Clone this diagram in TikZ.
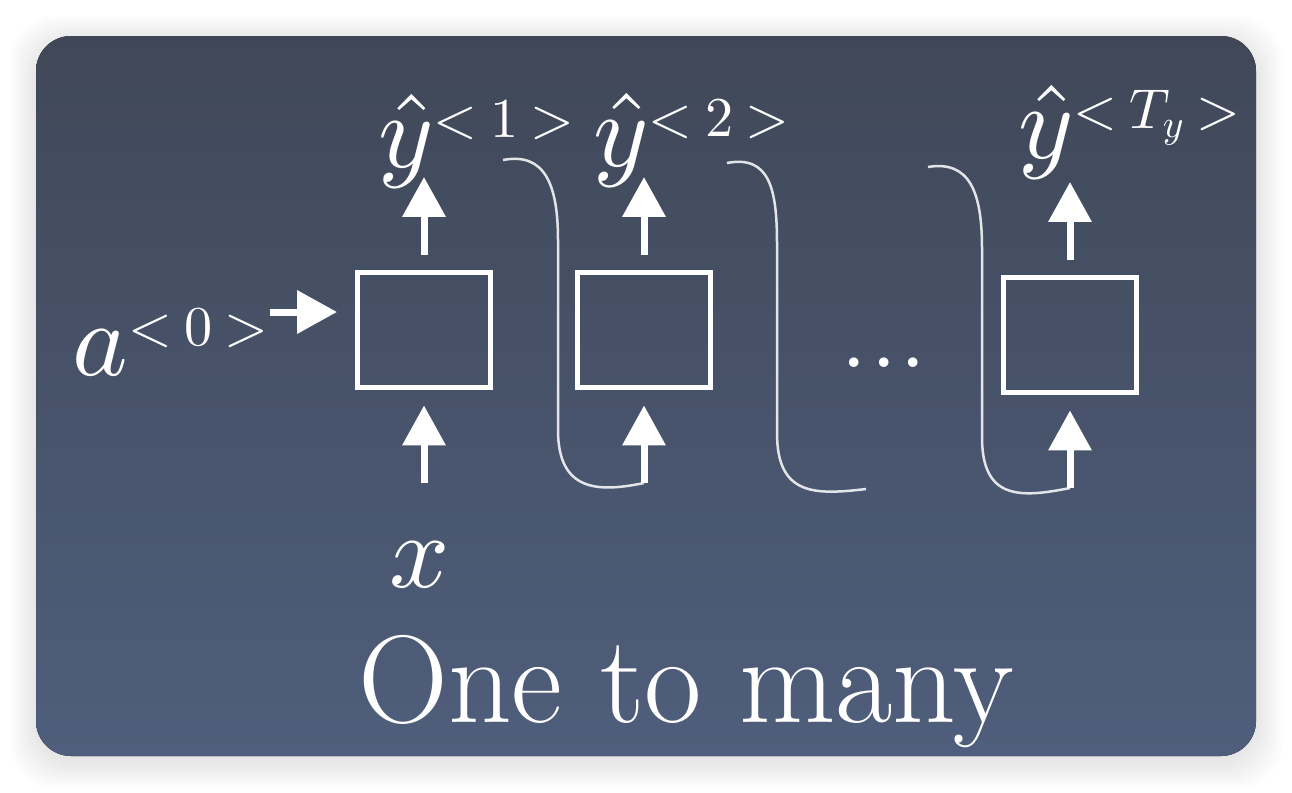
\documentclass[tikz,border=0pt]{standalone}
\usepackage{tikz}
\usetikzlibrary{arrows.meta}
\DeclareFontShape{OML}{cmm}{m}{it}{<->cmmi10}{}
\DeclareFontShape{OMS}{cmsy}{m}{n}{<->cmsy10}{}
\DeclareFontShape{OT1}{cmr}{m}{n}{<->cmr10}{}
\DeclareFontShape{OMX}{cmex}{m}{n}{<->cmex10}{}
\newcommand{\tstep}[1]{\raisebox{-0.18cm}{\fontsize{32}{34}\selectfont$<\mkern-1mu#1\mkern-1mu>$}}
\tikzset{
	cell/.style={draw=white, line width=0.1cm, minimum width=2.68cm, minimum height=2.32cm, inner sep=0pt},
	arr/.style={white, line width=0.14cm, -{Triangle[width=0.84cm,length=0.8cm]}},
	loop/.style={white, opacity=0.85, line width=0.05cm},
	lbl/.style={text=white, inner sep=0pt, font=\fontsize{60}{66}\selectfont},
}

\begin{document}
\begin{tikzpicture}[x=0.02cm, y=-0.02cm]
			%%%%% START %%%%%
			
			\useasboundingbox (0, 0) rectangle (1292, 792);
			\fill[white] (0, 0) rectangle (1292, 792);
			\foreach \i in {1,...,12}
				\fill[black, opacity=0.009, rounded corners=0.9cm] (36-2.2*\i, 42-2.2*\i) rectangle (1256+2.2*\i, 762+2.2*\i);
			\fill[top color={rgb,255:red,64;green,72;blue,88}, bottom color={rgb,255:red,79;green,94;blue,124}, rounded corners=0.7cm] (36, 36) rectangle (1256, 756);
			
			% cells with input and output
			\foreach \n/\cx/\cy in {1/424/330, 2/644/330, 3/1070/335} {
				\node[cell] (c\n) at (\cx, \cy) {};
				\coordinate (in\n) at (\cx, \cy+153);
				\coordinate (out\n) at (\cx, \cy-153);
				\draw[arr, shorten >=0.3cm] (in\n) -- (c\n);
				\draw[arr, shorten <=0.3cm] (c\n) -- (out\n);
			}
			
			\node[lbl, anchor=base west] (y1) at (378, 167) {$\hat{y}^{\tstep{1}}$};
			\node[lbl, anchor=base west] (y2) at (593, 166) {$\hat{y}^{\tstep{2}}$};
			\node[lbl, anchor=base west] (y3) at (1018, 158) {$\hat{y}^{\tstep{T_y}}$};
			
			\node[lbl, anchor=base] (x) at (420, 587) {$x$};
			\node[lbl, anchor=base west] (a0) at (72, 375) {$a^{\tstep{0}}$};
			\coordinate (a0tip) at (337, 312);
			\draw[arr] (a0.east |- a0tip) -- (a0tip);
			
			\node[lbl, anchor=base, font=\fontsize{67}{70}\selectfont] (dots) at (884, 367) {...};
			
			% recurrent links
			\coordinate (s1) at (503, 160);
			\coordinate (s2) at (727, 163);
			\coordinate (s3) at (928, 167);
			\coordinate (e2) at (866, 489);
			\draw[loop] (s1) .. controls (545, 152) and (558, 185) .. (558, 240) -- (558, 430) .. controls (558, 493) and (600, 492) .. (in2);
			\draw[loop] (s2) .. controls (769, 155) and (777, 188) .. (777, 243) -- (777, 433) .. controls (777, 496) and (815, 495) .. (e2);
			\draw[loop] (s3) .. controls (970, 160) and (982, 193) .. (982, 248) -- (982, 437) .. controls (982, 500) and (1020, 498) .. (in3);
			
			\node[lbl, anchor=base, font=\fontsize{71}{76}\selectfont] (title) at (686, 722) {One to many};
			
			%%%%% END %%%%%
		\end{tikzpicture}
\end{document}
